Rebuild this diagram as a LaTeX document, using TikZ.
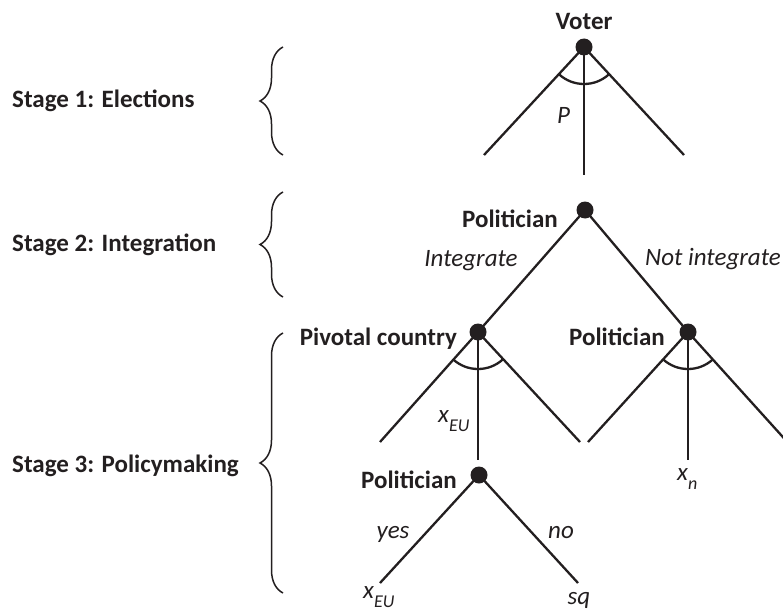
\documentclass[tikz,border=0pt]{standalone}
\usepackage{fontspec}
\setmainfont{Carlito}
\usetikzlibrary{decorations.pathreplacing}
\definecolor{ink}{HTML}{231F20}
\newcommand{\mysub}[1]{\raisebox{-9.5pt}{\fontsize{18}{18}\selectfont\itshape #1}}
\begin{document}
\begin{tikzpicture}[x=1pt,y=-1pt,
  every node/.style={text=ink},
  dot/.style={circle, fill=ink, draw=none, minimum size=17pt, inner sep=0pt},
  edge/.style={draw=ink, line width=2.3pt},
  lbl/.style={font=\fontsize{25}{30}\selectfont\bfseries, inner sep=0pt},
  act/.style={font=\fontsize{25}{30}\selectfont\itshape, inner sep=0pt},
  stagebrace/.style={draw=ink, line width=1.5pt, decorate, decoration={brace, amplitude=23pt}},
]
\useasboundingbox (0,0) rectangle (783,615);

% Stage labels and braces
\node[lbl, anchor=base west] (s1) at (12,107) {Stage 1: Elections};
\node[lbl, anchor=base west] (s2) at (12,251) {Stage 2: Integration};
\node[lbl, anchor=base west] (s3) at (12,472) {Stage 3: Policymaking};
\coordinate (b1t) at (283,47);  \coordinate (b1b) at (283,155);
\coordinate (b2t) at (283,192); \coordinate (b2b) at (283,297);
\coordinate (b3t) at (283,333); \coordinate (b3b) at (283,593);
\draw[stagebrace] (b1b) -- (b1t);
\draw[stagebrace] (b2b) -- (b2t);
\draw[stagebrace] (b3b) -- (b3t);

% Stage 1: Voter
\node[dot] (V) at (584,47) {};
\node[lbl, anchor=base] (Vl) at (584,30) {Voter};
\coordinate (V1) at (484,155);
\coordinate (V2) at (584,175);
\coordinate (V3) at (684,155);
\draw[edge] (V.center) -- (V1);
\draw[edge] (V.center) -- (V2);
\draw[edge] (V.center) -- (V3);
\draw[edge] ([shift={(-132.5:37pt)}]V.center) arc[start angle=-132.5, end angle=-47.5, radius=37pt];
\node[act, anchor=base west] (Pl) at (557,123) {P};

% Stage 2: Politician
\node[dot] (T) at (585,210) {};
\node[lbl, anchor=base east] (Tl) at (558,227) {Politician};
\node[dot] (A) at (478,332) {};
\node[dot] (B) at (688,332) {};
\draw[edge] (T.center) -- (A.center);
\draw[edge] (T.center) -- (B.center);
\node[act, anchor=base] (int) at (471,266) {Integrate};
\node[act, anchor=base east] (nint) at (781,265) {Not integrate};

% Stage 3: Pivotal country
\node[lbl, anchor=base east] (Al) at (457,345) {Pivotal country};
\coordinate (A1) at (380,442);
\coordinate (A2) at (478,460);
\coordinate (A3) at (580,442);
\draw[edge] (A.center) -- (A1);
\draw[edge] (A.center) -- (A2);
\draw[edge] (A.center) -- (A3);
\draw[edge] ([shift={(-132.5:37pt)}]A.center) arc[start angle=-132.5, end angle=-47.5, radius=37pt];
\node[act, anchor=base west] (xeu1) at (438,422) {x\mysub{EU}};

% Stage 3: Politician (not integrate)
\node[lbl, anchor=base east] (Bl) at (665,345) {Politician};
\coordinate (B1) at (588,442);
\coordinate (B2) at (688,460);
\coordinate (B3) at (800,456);
\draw[edge] (B.center) -- (B1);
\draw[edge] (B.center) -- (B2);
\draw[edge] (B.center) -- (B3);
\draw[edge] ([shift={(-132.5:37pt)}]B.center) arc[start angle=-132.5, end angle=-47.5, radius=37pt];
\node[act, anchor=base west] (xn) at (677,480) {x\mysub{n}};

% Stage 3: Politician (after pivotal country)
\node[dot] (C) at (479,475) {};
\node[lbl, anchor=base east] (Cl) at (457,488) {Politician};
\coordinate (C1) at (380,583);
\coordinate (C2) at (578,583);
\draw[edge] (C.center) -- (C1);
\draw[edge] (C.center) -- (C2);
\node[act, anchor=base] (yes) at (393,538) {yes};
\node[act, anchor=base] (no) at (561,538) {no};
\node[act, anchor=base west] (xeu2) at (363,598) {x\mysub{EU}};
\node[act, anchor=base] (sq) at (579,604) {sq};
\end{tikzpicture}
\end{document}
